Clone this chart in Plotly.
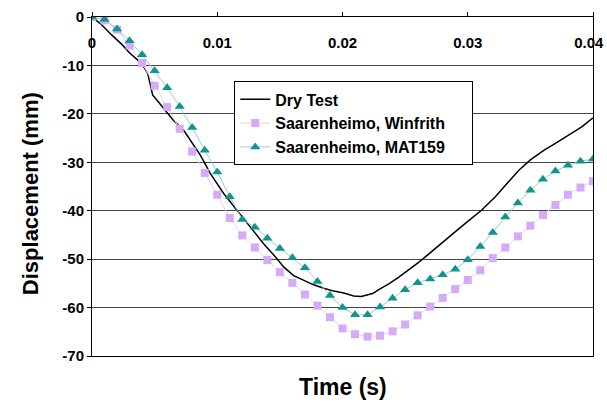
import plotly.graph_objects as go

# Dry test (dense trace)
dry_t = [0.0, 0.00077, 0.00157, 0.00236, 0.00303, 0.0037, 0.0041, 0.00444, 0.00463, 0.00484,
         0.00529, 0.00583, 0.00649, 0.00735, 0.00825, 0.00865, 0.00944, 0.0105, 0.01157,
         0.01264, 0.0137, 0.01477, 0.0153, 0.0161, 0.0169, 0.0177, 0.0185, 0.0193, 0.0201,
         0.0209, 0.0215, 0.0219, 0.0224, 0.0229, 0.0237, 0.0245, 0.0253, 0.0261, 0.0269,
         0.0277, 0.0285, 0.0293, 0.0301, 0.0306, 0.0311, 0.0322, 0.0333, 0.0341, 0.035,
         0.0361, 0.037, 0.0381, 0.0391, 0.04]
dry_v = [0.0, -1.6, -3.7, -5.6, -7.5, -9.0, -10.2, -11.6, -13.7, -16.1,
         -17.5, -19.2, -21.3, -23.5, -26.8, -28.5, -32.3, -36.4, -39.9,
         -43.4, -46.8, -49.9, -51.6, -53.4, -54.4, -55.3, -56.0, -56.6, -57.0,
         -57.6, -57.7, -57.5, -57.1, -56.3, -55.1, -53.7, -52.2, -50.6, -48.9,
         -47.1, -45.4, -43.7, -42.0, -40.9, -39.9, -37.1, -34.0, -31.6, -29.5,
         -27.5, -26.1, -24.4, -22.7, -20.8]

# Simulations sampled every 0.001 s
sim_t = [i / 1000 for i in range(41)]
winfrith = [0.0, -0.7, -2.6, -5.9, -9.5, -14.2, -18.6, -23.1, -27.8, -32.2,
            -36.7, -41.5, -45.1, -47.6, -50.2, -52.7, -54.9, -57.3, -59.6, -62.0,
            -64.3, -65.5, -66.0, -65.8, -64.9, -63.5, -61.6, -59.8, -58.0, -56.2,
            -54.3, -52.3, -49.8, -47.6, -45.3, -43.1, -40.9, -38.8, -36.7, -35.2,
            -33.9]
mat159 = [0.0, -0.5, -2.5, -4.9, -7.8, -11.1, -14.6, -18.5, -22.8, -27.5,
          -32.0, -37.1, -41.8, -43.4, -45.7, -47.8, -49.7, -51.8, -54.6, -57.5,
          -60.0, -61.5, -61.5, -59.9, -58.1, -56.3, -54.9, -54.1, -53.2, -52.1,
          -50.1, -47.4, -44.5, -41.3, -38.4, -35.8, -33.5, -31.8, -30.6, -29.8,
          -29.3]

x_ticks = [0, 0.01, 0.02, 0.03, 0.04]
x_labels = ["0", "0.01", "0.02", "0.03", "0.04"]
y_ticks = [0, -10, -20, -30, -40, -50, -60, -70]
y_labels = ["0", "-10", "-20", "-30", "-40", "-50", "-60", "-70"]

font_family = "Liberation Sans, Arial, sans-serif"
pad = "\u00a0" * 5

x_text = ["<b>%s</b>" % t for t in x_labels]
x_text[-1] = x_text[-1] + "\u00a0\u00a0"

fig = go.Figure()
fig.add_trace(go.Scatter(x=dry_t, y=dry_v, mode="lines", name="<b>Dry Test</b>",
                         line=dict(color="black", width=1.5)))
fig.add_trace(go.Scatter(x=sim_t, y=winfrith, mode="lines+markers",
                         name="<b>Saarenheimo, Winfrith</b>" + pad,
                         line=dict(color="#e4d2fb", width=1),
                         marker=dict(symbol="square", size=8, color="#d4aaf9")))
fig.add_trace(go.Scatter(x=sim_t, y=mat159, mode="lines+markers",
                         name="<b>Saarenheimo, MAT159</b>",
                         line=dict(color="#8fd3d0", width=1),
                         marker=dict(symbol="triangle-up", size=9, color="#10948f")))
# invisible helper trace so the label axis renders
fig.add_trace(go.Scatter(x=[0, 0.04], y=[0, 0], xaxis="x2", mode="markers",
                         marker=dict(opacity=0), showlegend=False, hoverinfo="skip"))

fig.update_layout(
    width=607, height=405,
    margin=dict(l=92, r=14, t=17, b=49),
    paper_bgcolor="white", plot_bgcolor="white",
    font=dict(family=font_family, color="black", size=16),
    showlegend=True,
    legend=dict(x=0.284, y=0.81, xanchor="left", yanchor="top",
                bgcolor="white", bordercolor="black", borderwidth=1,
                font=dict(size=16, family=font_family), tracegroupgap=0),
    xaxis=dict(range=[0, 0.04], side="top", tickvals=x_ticks, showticklabels=False,
               ticks="outside", ticklen=4, tickcolor="black", automargin=False,
               showline=True, linecolor="black", linewidth=1, mirror=True,
               showgrid=False, zeroline=False),
    xaxis2=dict(range=[0, 0.04], overlaying="x", anchor="free", position=0.957,
                side="bottom", tickvals=x_ticks, ticktext=x_text,
                ticks="", showline=False, showgrid=False, zeroline=False,
                ticklabeloverflow="allow",
                automargin=False, tickfont=dict(size=15, family=font_family)),
    yaxis=dict(range=[-70, 0], tickvals=y_ticks,
               ticktext=["<b>%s</b>" % t for t in y_labels],
               ticks="outside", ticklen=4, tickcolor="black", automargin=False,
               tickfont=dict(size=15, family=font_family),
               showline=True, linecolor="black", linewidth=1, mirror=True,
               showgrid=True, gridcolor="#454545", gridwidth=1, zeroline=False),
)
fig.add_annotation(text="<b>Time (s)</b>", x=0.5, y=-0.09, xref="paper", yref="paper",
                   xanchor="center", yanchor="middle", showarrow=False,
                   font=dict(size=23, family=font_family))
fig.add_annotation(text="<b>Displacement (mm)</b>", x=-0.124, y=0.48, xref="paper",
                   yref="paper", xanchor="center", yanchor="middle", showarrow=False,
                   textangle=-90, font=dict(size=22, family=font_family))

fig.write_html("out.html", config={"displayModeBar": False},
               post_script="document.body.style.margin='0px';document.body.style.padding='0px';")
